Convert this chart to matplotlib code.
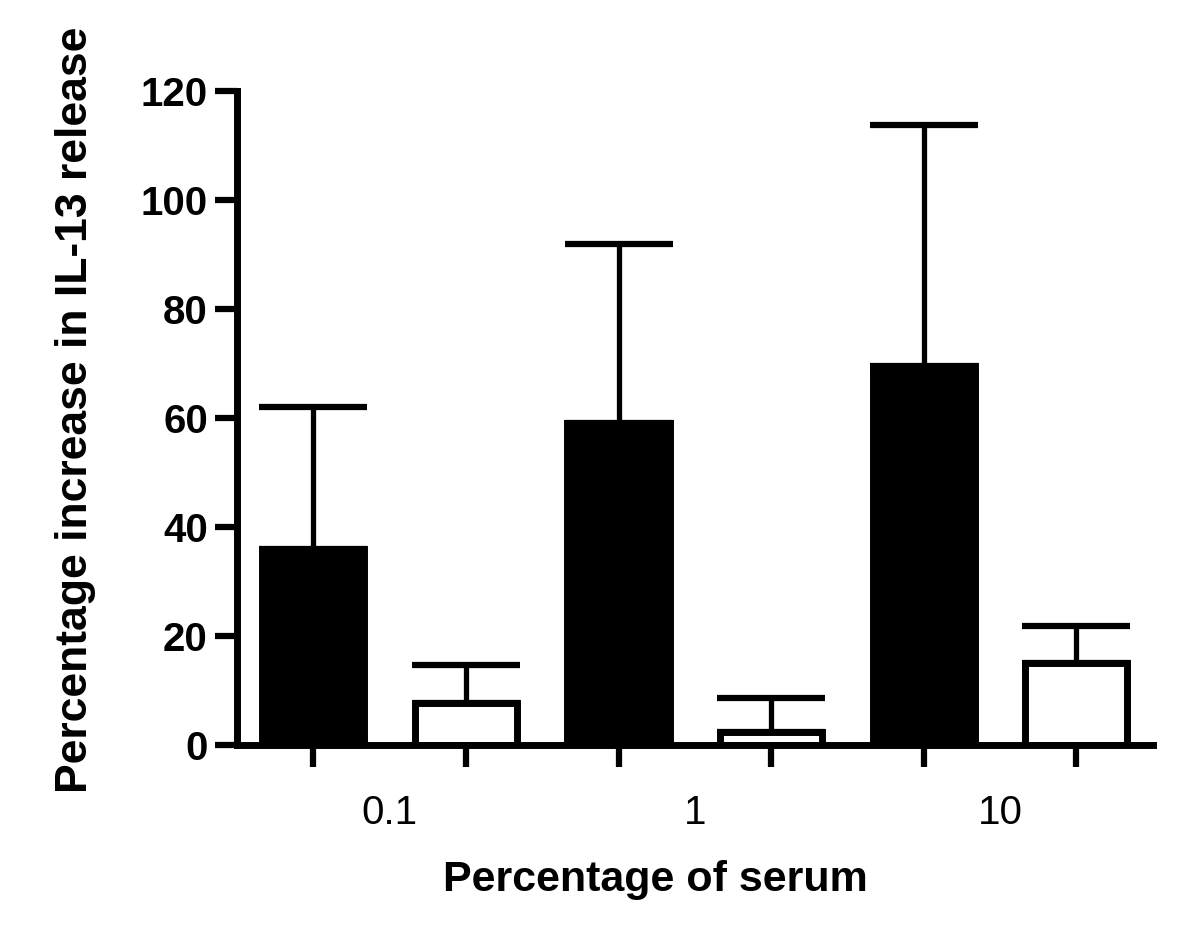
"""Percentage increase in IL-13 release against serum percentage
"""
import matplotlib.pyplot as plt
import numpy as np

serum = ["0.1", "1", "10"]
black_mean = [36, 59, 69.5]
black_sem = [26, 33, 44.3]
white_mean = [7.7, 2.4, 15.0]
white_sem = [7.0, 6.2, 6.8]
yticks = [0, 20, 40, 60, 80, 100, 120]

plt.rcParams["font.family"] = ["Liberation Sans", "DejaVu Sans"]

fig = plt.figure(figsize=(12, 9.25), dpi=100)
ax = fig.add_axes([0.1975, 0.1946, 0.763, 0.707])

# each serum level gets a black and a white bar side by side
xb = np.arange(len(serum)) * 2
xw = xb + 1
width = 0.67
lw = 5

ax.errorbar(xb, black_mean, yerr=[np.zeros(3), black_sem], fmt="none",
            ecolor="black", elinewidth=3.8, capsize=39, capthick=4.5, zorder=1)
ax.errorbar(xw, white_mean, yerr=[np.zeros(3), white_sem], fmt="none",
            ecolor="black", elinewidth=3.8, capsize=39, capthick=4.5, zorder=1)
ax.bar(xb, black_mean, width=width, color="black", edgecolor="black",
       linewidth=lw, zorder=2)
ax.bar(xw, white_mean, width=width, color="white", edgecolor="black",
       linewidth=lw, zorder=2)

ax.set_xlim(-0.5, 5.5)
ax.set_ylim(0, 120)
ax.set_yticks(yticks)
ax.set_yticklabels([str(v) for v in yticks], fontsize=29, fontweight="bold")

ax.set_xticks(np.arange(6))
ax.set_xticklabels([])
ax.set_xticks(xb + 0.5, minor=True)
ax.set_xticklabels(serum, minor=True, fontsize=29)
ax.tick_params(axis="x", which="minor", length=0, pad=35)
ax.tick_params(axis="both", which="major", length=16, width=4.5, pad=5)

for side in ["top", "right"]:
    ax.spines[side].set_visible(False)
for side in ["left", "bottom"]:
    ax.spines[side].set_linewidth(5)
    ax.spines[side].set_capstyle("projecting")

ax.set_xlabel("Percentage of serum", fontsize=31, fontweight="bold")
ax.xaxis.set_label_coords(0.457, -0.176)
ax.set_ylabel("Percentage increase in IL-13 release", fontsize=32,
              fontweight="bold")
ax.yaxis.set_label_coords(-0.154, 0.512)

fig.savefig("out.png", dpi=100)
